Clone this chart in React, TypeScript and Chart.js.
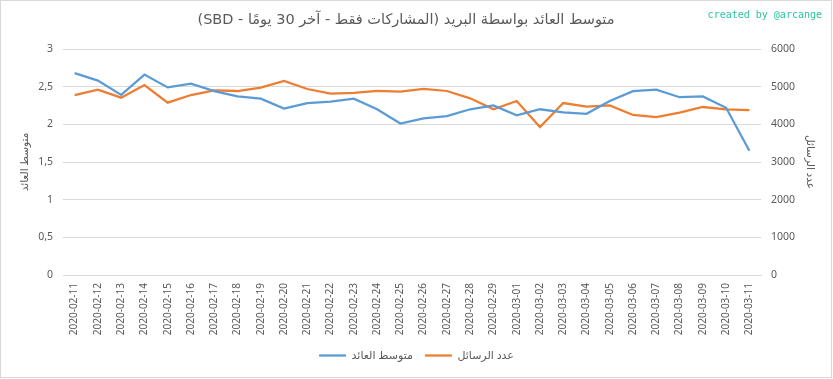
import React, { useEffect, useRef } from "react";
import { Chart, registerables } from "chart.js";

Chart.register(...registerables);

const dates = [
  "2020-02-11", "2020-02-12", "2020-02-13", "2020-02-14", "2020-02-15",
  "2020-02-16", "2020-02-17", "2020-02-18", "2020-02-19", "2020-02-20",
  "2020-02-21", "2020-02-22", "2020-02-23", "2020-02-24", "2020-02-25",
  "2020-02-26", "2020-02-27", "2020-02-28", "2020-02-29", "2020-03-01",
  "2020-03-02", "2020-03-03", "2020-03-04", "2020-03-05", "2020-03-06",
  "2020-03-07", "2020-03-08", "2020-03-09", "2020-03-10", "2020-03-11",
];

const avgReturn = [
  2.68, 2.58, 2.39, 2.66, 2.49, 2.54, 2.44, 2.37, 2.34, 2.21,
  2.28, 2.30, 2.34, 2.20, 2.01, 2.08, 2.11, 2.20, 2.25, 2.12,
  2.20, 2.16, 2.14, 2.31, 2.44, 2.46, 2.36, 2.37, 2.22, 1.65,
];

const postCount = [
  4778, 4920, 4708, 5044, 4575, 4778, 4903, 4885, 4973, 5150,
  4938, 4814, 4832, 4885, 4867, 4938, 4885, 4690, 4398, 4619,
  3929, 4566, 4469, 4504, 4248, 4194, 4309, 4460, 4398, 4380,
];

const TITLE = "متوسط العائد بواسطة البريد (المشاركات فقط - آخر 30 يومًا - SBD)";
const LEFT_TITLE = "متوسط العائد";
const RIGHT_TITLE = "عدد الرسائل";
const SERIES_AVG = "متوسط العائد";
const SERIES_COUNT = "عدد الرسائل";
const WATERMARK = "created by @arcange";

const TEXT = "#595959";
const GRID = "#d9d9d9";
const BLUE = "#5B9BD5";
const ORANGE = "#ED7D31";
const FONT = "'Noto Sans', 'DejaVu Sans', sans-serif";

const decor = {
  id: "decor",
  afterDraw(chart: any) {
    const ctx = chart.ctx as CanvasRenderingContext2D;
    ctx.save();
    ctx.strokeStyle = GRID;
    ctx.lineWidth = 1;
    ctx.strokeRect(0.5, 0.5, 831, 377);

    ctx.fillStyle = TEXT;
    ctx.font = "14.5px 'DejaVu Sans', sans-serif";
    ctx.textAlign = "center";
    ctx.textBaseline = "middle";
    (ctx as any).direction = "rtl";
    ctx.fillText(TITLE, 406, 20);

    (ctx as any).direction = "ltr";
    ctx.fillStyle = "#2ec49c";
    ctx.font = "10px 'DejaVu Sans Mono', monospace";
    ctx.textAlign = "right";
    ctx.fillText(WATERMARK, 822, 15);
    ctx.restore();
  },
};

export default function App() {
  const ref = useRef<HTMLCanvasElement | null>(null);

  useEffect(() => {
    if (!ref.current) return;
    const chart = new Chart(ref.current, {
      type: "line",
      data: {
        labels: dates,
        datasets: [
          {
            label: SERIES_AVG,
            data: avgReturn,
            borderColor: BLUE,
            backgroundColor: BLUE,
            borderWidth: 2.25,
            pointRadius: 0,
            tension: 0,
            yAxisID: "y",
          },
          {
            label: SERIES_COUNT,
            data: postCount,
            borderColor: ORANGE,
            backgroundColor: ORANGE,
            borderWidth: 2.25,
            pointRadius: 0,
            tension: 0,
            yAxisID: "y1",
          },
        ],
      },
      options: {
        animation: false,
        responsive: false,
        devicePixelRatio: 1,
        layout: { padding: { top: 49, bottom: 8, left: 0, right: 0 } },
        plugins: {
          title: { display: false },
          tooltip: { enabled: false },
          legend: {
            position: "bottom",
            labels: {
              usePointStyle: true,
              pointStyle: "line",
              pointStyleWidth: 27,
              padding: 12,
              color: TEXT,
              font: { family: FONT, size: 11 },
            },
          },
        },
        scales: {
          x: {
            offset: true,
            grid: { display: false, drawTicks: false },
            border: { display: true, color: GRID },
            ticks: {
              autoSkip: false,
              maxRotation: 90,
              minRotation: 90,
              padding: 8,
              color: TEXT,
              font: { family: FONT, size: 10 },
            },
            afterFit: (s: any) => {
              s.height = 63;
            },
          },
          y: {
            position: "left",
            min: 0,
            max: 3,
            grid: { color: GRID, drawTicks: false },
            border: { display: false },
            ticks: {
              stepSize: 0.5,
              padding: 10,
              color: TEXT,
              font: { family: FONT, size: 10.5 },
              callback: (v: any) => String(v).replace(".", ","),
            },
            title: {
              display: true,
              text: LEFT_TITLE,
              color: TEXT,
              padding: { top: 19, bottom: 0 },
              font: { family: FONT, size: 10.5 },
            },
            afterFit: (s: any) => {
              s.width = 63;
            },
          },
          y1: {
            position: "right",
            min: 0,
            max: 6000,
            grid: { drawOnChartArea: false, drawTicks: false },
            border: { display: false },
            ticks: {
              stepSize: 1000,
              padding: 10,
              color: TEXT,
              font: { family: FONT, size: 10.5 },
              callback: (v: any) => String(v),
            },
            title: {
              display: true,
              text: RIGHT_TITLE,
              color: TEXT,
              padding: { top: 17, bottom: 0 },
              font: { family: FONT, size: 10.5 },
            },
            afterFit: (s: any) => {
              s.width = 72;
            },
          },
        },
      },
      plugins: [decor],
    });
    return () => chart.destroy();
  }, []);

  return (
    <div style={{ position: "fixed", left: 0, top: 0, width: 833, height: 379, background: "#fff" }}>
      <canvas ref={ref} width={833} height={379} style={{ width: 833, height: 379, display: "block" }} />
    </div>
  );
}
